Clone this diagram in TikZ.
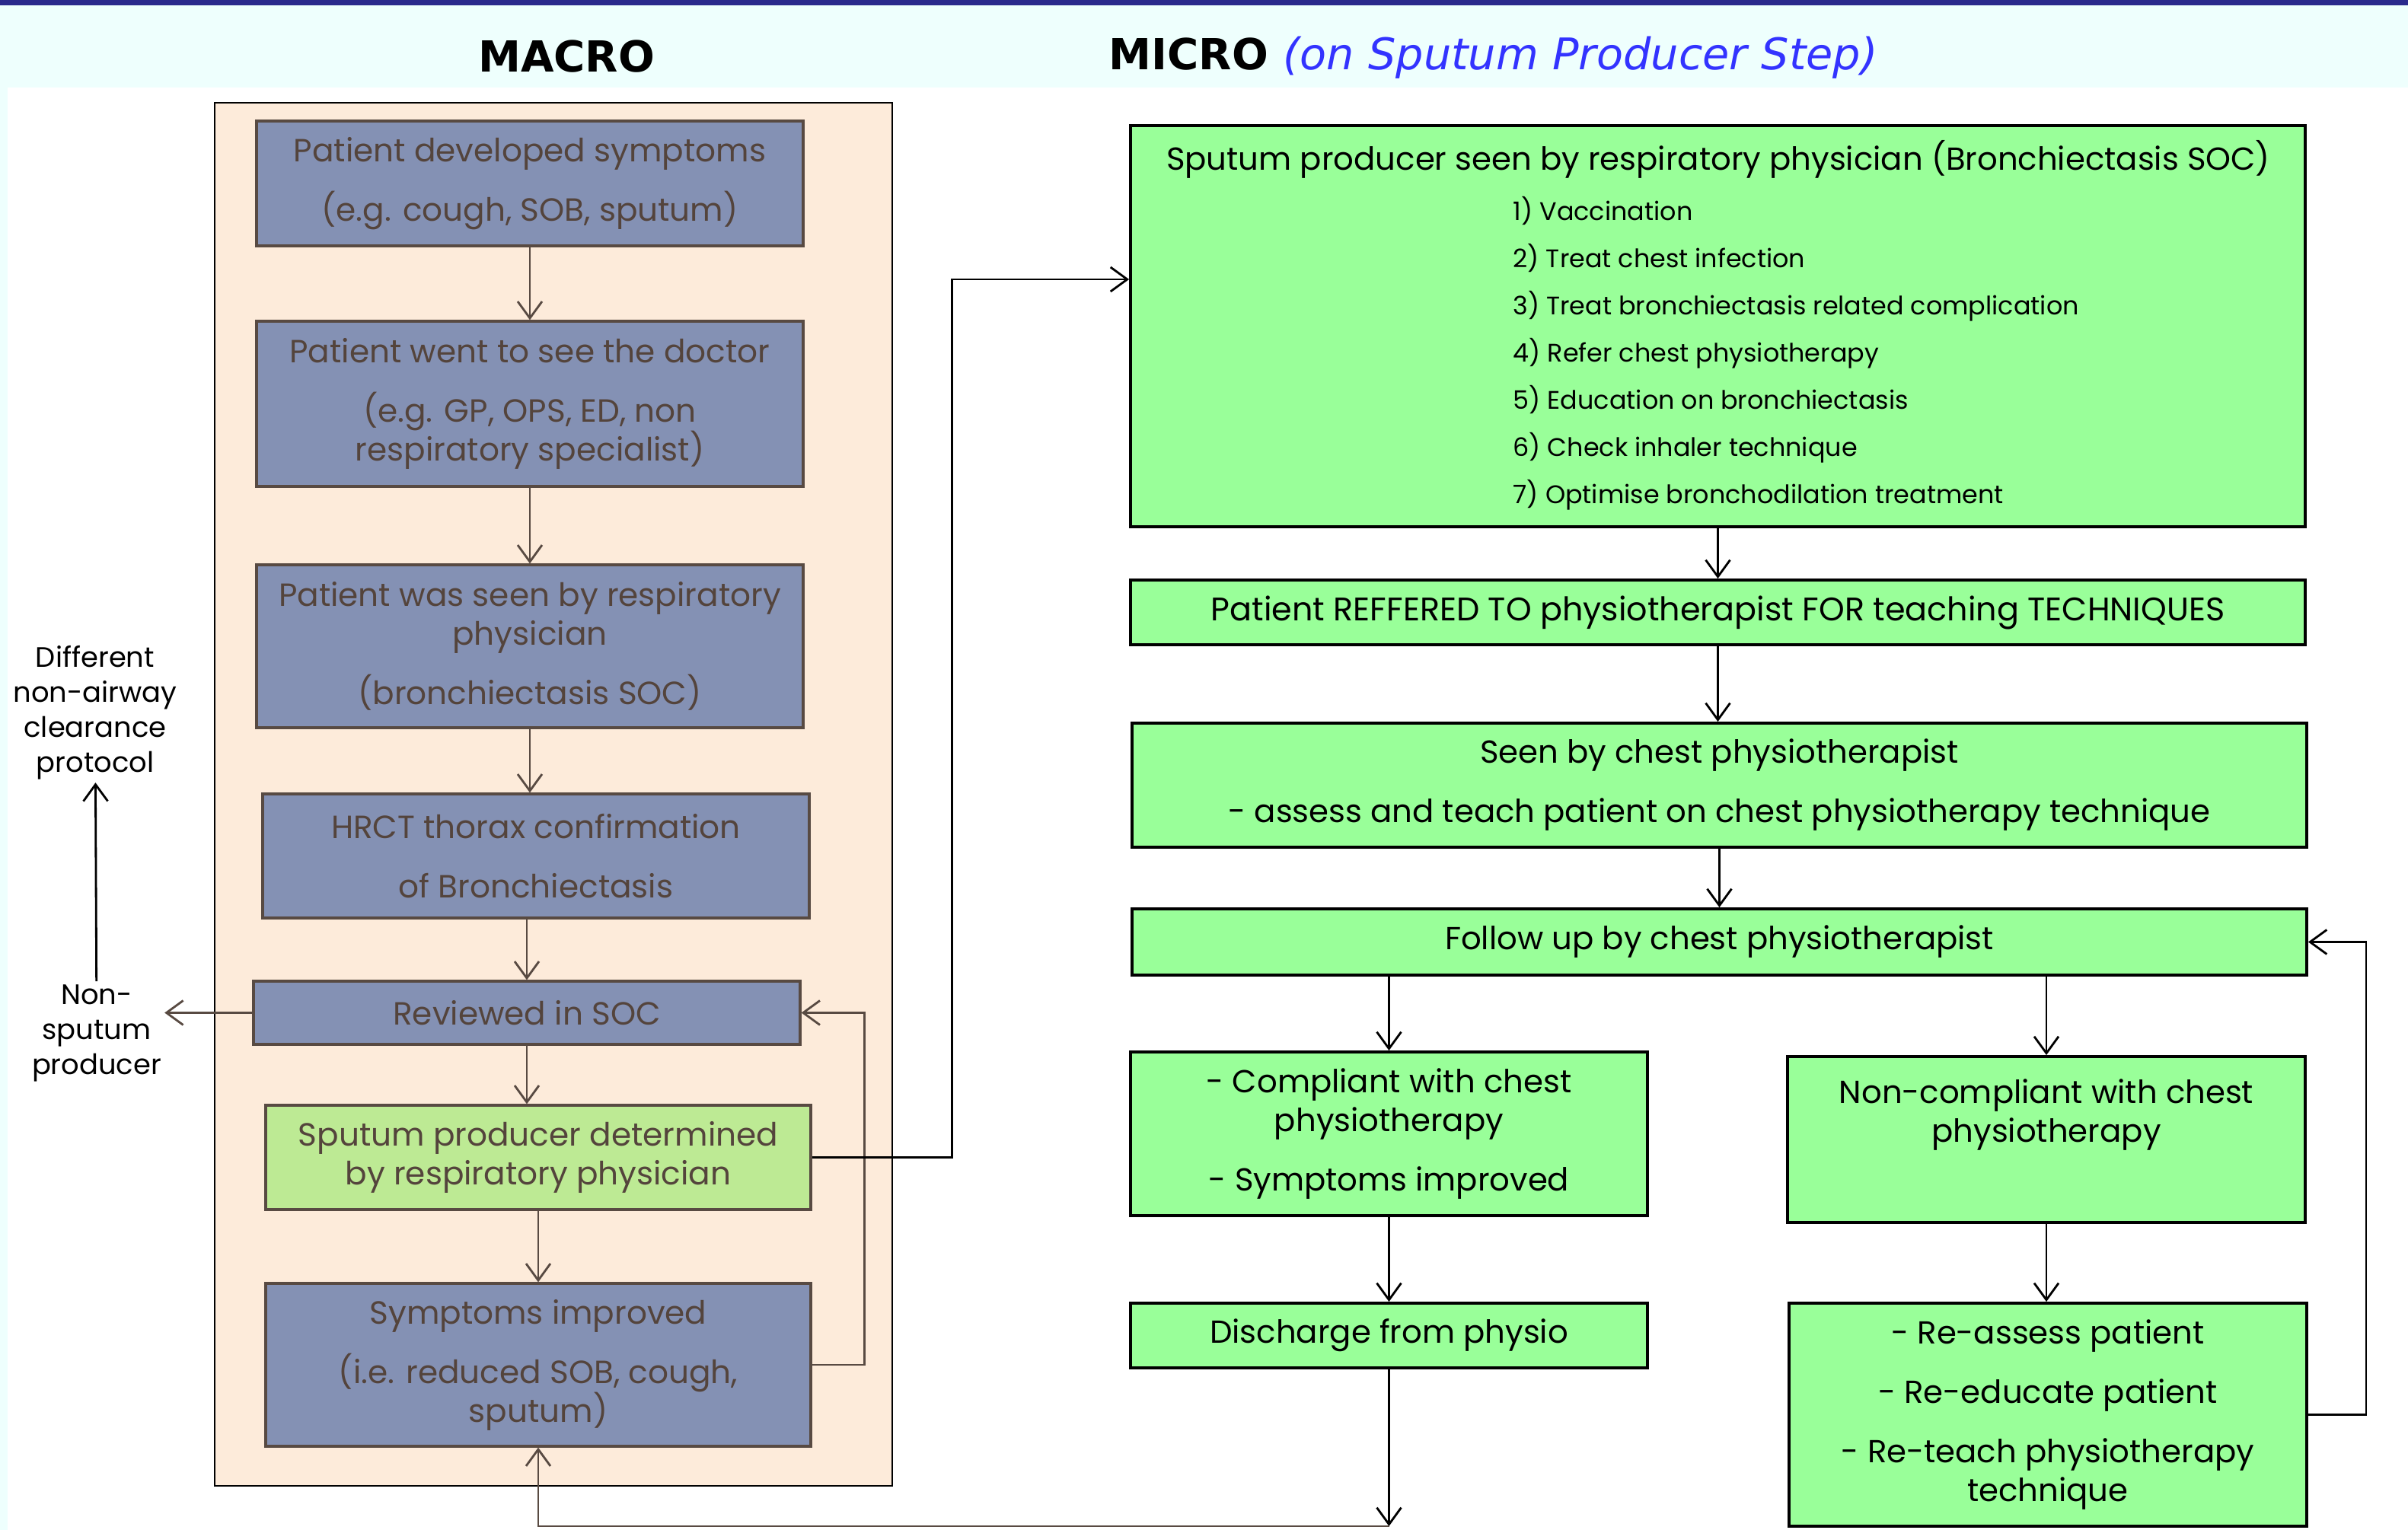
\documentclass[tikz,border=0pt]{standalone}
\usepackage{fontspec}
\setmainfont{Poppins}
\newfontfamily\headfont{DejaVu Sans}
\usetikzlibrary{arrows.meta, positioning}

\definecolor{macrofill}{RGB}{132,145,180}
\definecolor{macrotext}{RGB}{84,68,60}
\definecolor{macroline}{RGB}{88,74,66}
\definecolor{panelfill}{RGB}{253,235,218}
\definecolor{sputfill}{RGB}{189,234,148}
\definecolor{microfill}{RGB}{153,255,153}
\definecolor{headband}{RGB}{238,255,253}
\definecolor{headbar}{RGB}{42,42,140}
\definecolor{stepblue}{RGB}{51,51,255}

\begin{document}
\begin{tikzpicture}[
  macbox/.style={rectangle, draw=macroline, line width=0.9pt, fill=macrofill, text=macrotext,
                 align=center, inner sep=2pt, font=\fontsize{12}{14.5}\selectfont},
  micbox/.style={rectangle, draw=black, line width=1.1pt, fill=microfill,
                 align=center, inner sep=2pt, font=\fontsize{11.9}{14.5}\selectfont},
  sidetxt/.style={align=center, inner sep=1pt, font=\fontsize{10.5}{13.1}\selectfont},
  macarrow/.style={-{Straight Barb[length=2.2mm, width=3.2mm]}, draw=macroline, line width=0.8pt},
  micarrow/.style={-{Straight Barb[length=2.2mm, width=3.2mm]}, line width=0.8pt}
]
\useasboundingbox (0,0) rectangle (31.63,-20.10);
% title band
\fill[headband] (0,0) rectangle (31.63,-1.15);
\fill[headband] (0,-1.15) rectangle (0.1,-20.10);
\fill[headbar] (0,0) rectangle (31.63,-0.07);
\node[font=\headfont\bfseries\fontsize{16}{19}\selectfont] (macrohead) at (7.44,-0.74) {MACRO};
\node[anchor=west, inner sep=0pt, font=\headfont\bfseries\fontsize{16}{19}\selectfont] (microhead) at (14.56,-0.76)
  {MICRO \textcolor{stepblue}{\mdseries\itshape\fontsize{16.3}{19}\selectfont (on Sputum Producer Step)}};

% macro side
\node[draw=black, line width=0.8pt, fill=panelfill, minimum width=8.9cm, minimum height=18.17cm, inner sep=0pt] (macropanel) at (7.27,-10.435) {};
\node[macbox, minimum width=7.18cm, minimum height=1.64cm] (symptoms) at (6.96,-2.41)
  {Patient developed symptoms\\[0.27cm](e.g. cough, SOB, sputum)};
\node[macbox, minimum width=7.18cm, minimum height=2.17cm] (doctor) at (6.96,-5.305)
  {Patient went to see the doctor\\[0.27cm](e.g. GP, OPS, ED, non\\respiratory specialist)};
\node[macbox, minimum width=7.18cm, minimum height=2.14cm] (respseen) at (6.96,-8.49)
  {Patient was seen by respiratory\\physician\\[0.27cm](bronchiectasis SOC)};
\node[macbox, minimum width=7.18cm, minimum height=1.63cm] (hrct) at (7.04,-11.245)
  {HRCT thorax confirmation\\[0.27cm]of Bronchiectasis};
\node[macbox, minimum width=7.18cm, minimum height=0.83cm] (reviewed) at (6.92,-13.305) {Reviewed in SOC};
\node[macbox, fill=sputfill, minimum width=7.16cm, minimum height=1.37cm] (determined) at (7.07,-15.205)
  {Sputum producer determined\\by respiratory physician};
\node[macbox, minimum width=7.16cm, minimum height=2.14cm] (improved) at (7.07,-17.93)
  {Symptoms improved\\[0.27cm](i.e. reduced SOB, cough,\\sputum)};

\node[sidetxt] (nonsputum) at (1.27,-13.57) {Non-\\sputum\\producer};
\node[sidetxt] (otherproto) at (1.25,-9.36) {Different\\non-airway\\clearance\\protocol};

% micro side
\node[micbox, minimum width=15.43cm, minimum height=5.27cm] (physician) at (22.565,-4.285) {};
\node[inner sep=0pt, font=\fontsize{11.9}{14.5}\selectfont] (physiciantitle) at (22.57,-2.09)
  {Sputum producer seen by respiratory physician (Bronchiectasis SOC)};
\node[anchor=north west, align=left, inner sep=0pt, font=\fontsize{9.5}{17.6}\selectfont] (treatlist) at (19.87,-2.58)
  {1) Vaccination\\2) Treat chest infection\\3) Treat bronchiectasis related complication\\4) Refer chest physiotherapy\\
   5) Education on bronchiectasis\\6) Check inhaler technique\\7) Optimise bronchodilation treatment};
\node[micbox, minimum width=15.43cm, minimum height=0.85cm, font=\fontsize{12.2}{14.5}\selectfont] (referred) at (22.565,-8.045)
  {Patient REFFERED TO physiotherapist FOR teaching TECHNIQUES};
\node[micbox, minimum width=15.43cm, minimum height=1.63cm] (teaching) at (22.585,-10.315)
  {Seen by chest physiotherapist\\[0.27cm]- assess and teach patient on chest physiotherapy technique};
\node[micbox, minimum width=15.43cm, minimum height=0.87cm] (followup) at (22.585,-12.375)
  {Follow up by chest physiotherapist};
\node[micbox, minimum width=6.79cm, minimum height=2.15cm] (compliant) at (18.245,-14.895)
  {- Compliant with chest\\physiotherapy\\[0.27cm]- Symptoms improved};
\node[micbox, minimum width=6.80cm, minimum height=2.18cm] (noncompliant) at (26.88,-14.97)
  {Non-compliant with chest\\physiotherapy\\[0.25cm]~};
\node[micbox, minimum width=6.79cm, minimum height=0.85cm] (discharge) at (18.245,-17.545)
  {Discharge from physio};
\node[micbox, minimum width=6.80cm, minimum height=2.93cm] (reassess) at (26.90,-18.585)
  {- Re-assess patient\\[0.27cm]- Re-educate patient\\[0.27cm]- Re-teach physiotherapy\\technique};
\coordinate (loopback) at (18.245,-20.05);

% macro flow
\draw[macarrow] (symptoms) -- (doctor);
\draw[macarrow] (doctor) -- (respseen);
\draw[macarrow] (respseen) -- (respseen.south |- hrct.north);
\draw[macarrow] (hrct.south -| reviewed) -- (reviewed);
\draw[macarrow] (reviewed) -- (reviewed |- determined.north);
\draw[macarrow] (determined) -- (improved);
\draw[macarrow] (reviewed) -- (reviewed -| nonsputum.east);
\draw[micarrow] (nonsputum) -- (otherproto);
\draw[macarrow] (improved.east) -- ++(0.69,0) |- (reviewed.east);
\draw[micarrow] (determined.east) -- ++(1.84,0) |- ([yshift=6.15mm]physician.west);

% micro flow
\draw[micarrow] (physician) -- (referred);
\draw[micarrow] (referred) -- (referred |- teaching.north);
\draw[micarrow] (teaching) -- (followup);
\draw[micarrow] (compliant |- followup.south) -- (compliant);
\draw[micarrow] (noncompliant |- followup.south) -- (noncompliant);
\draw[micarrow] (compliant) -- (discharge);
\draw[micarrow] (noncompliant) -- (noncompliant |- reassess.north);
\draw[micarrow] (reassess.east) -- ++(0.76,0) |- (followup.east);
\draw[micarrow] (discharge) -- (loopback);
\draw[macarrow] (loopback) -| (improved.south);
\end{tikzpicture}
\end{document}
